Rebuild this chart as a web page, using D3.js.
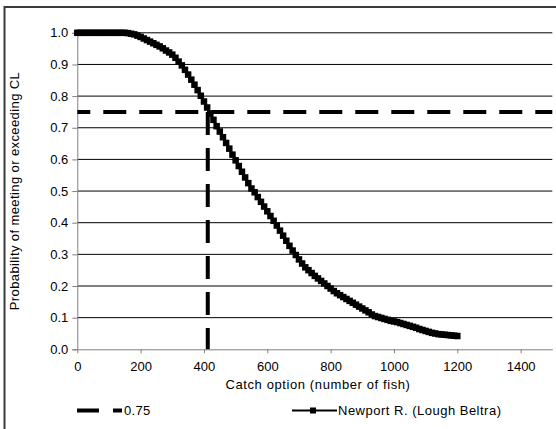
<!DOCTYPE html>
<html>
<head>
<meta charset="utf-8">
<script src="https://cdn.jsdelivr.net/npm/d3@7"></script>
<style>
  html, body { margin: 0; padding: 0; background: #fff; }
  svg { display: block; }
  text { font-family: "Liberation Sans", Arial, sans-serif; fill: #000; }
</style>
</head>
<body>
<svg id="chart" width="556" height="429"></svg>
<script>
// ---- data ----
const catchOptions = [
  0,10,20,30,40,50,60,70,80,90,100,110,120,130,140,150,160,170,180,190,
  200,210,220,230,240,250,260,270,280,290,300,310,320,330,340,350,360,370,380,390,
  400,410,420,430,440,450,460,470,480,490,500,510,520,530,540,550,560,570,580,590,
  600,610,620,630,640,650,660,670,680,690,700,710,720,730,740,750,760,770,780,790,
  800,810,820,830,840,850,860,870,880,890,900,910,920,930,940,950,960,970,980,990,
  1000,1010,1020,1030,1040,1050,1060,1070,1080,1090,1100,1110,1120,1130,1140,1150,1160,1170,1180,1190,
  1200
];
const newportProb = [
  1.000,1.000,1.000,1.000,1.000,1.000,1.000,1.000,1.000,1.000,1.000,1.000,1.000,1.000,1.000,1.000,0.999,0.997,0.995,0.991,
  0.987,0.982,0.977,0.972,0.967,0.962,0.957,0.951,0.944,0.938,0.931,0.921,0.909,0.897,0.883,0.868,0.852,0.836,0.819,0.801,
  0.783,0.764,0.745,0.725,0.705,0.688,0.670,0.652,0.634,0.615,0.597,0.579,0.561,0.543,0.525,0.508,0.496,0.481,0.466,0.451,
  0.436,0.421,0.406,0.391,0.375,0.359,0.343,0.327,0.312,0.298,0.284,0.271,0.259,0.250,0.241,0.232,0.224,0.216,0.208,0.200,
  0.192,0.184,0.177,0.171,0.165,0.159,0.153,0.147,0.141,0.135,0.129,0.123,0.117,0.110,0.105,0.102,0.099,0.096,0.093,0.090,
  0.088,0.086,0.083,0.080,0.077,0.074,0.071,0.068,0.064,0.061,0.058,0.055,0.052,0.050,0.048,0.047,0.046,0.045,0.044,0.043,
  0.042
];
const refLevel = 0.75;          // horizontal dashed threshold
const refCatch = 412;           // catch option where probability = 0.75
const xTicks = [0,200,400,600,800,1000,1200,1400];
const yTicks = [0.0,0.1,0.2,0.3,0.4,0.5,0.6,0.7,0.8,0.9,1.0];
const seriesName = "Newport R. (Lough Beltra)";
const refName = "0.75";
const xTitle = "Catch option (number of fish)";
const yTitle = "Probability of meeting or exceeding CL";

// ---- layout ----
const svg = d3.select("#chart");
const x = d3.scaleLinear().domain([0, 1500]).range([77.3, 552.3]);
const y = d3.scaleLinear().domain([0, 1]).range([349.3, 32.8]);
const FONT = "Liberation Sans, Arial, sans-serif";

// outer chart border (extends past the window on right/bottom)
svg.append("rect")
  .attr("x", 4.5).attr("y", 7).attr("width", 600).attr("height", 480)
  .attr("fill", "none").attr("stroke", "#3a3a3a").attr("stroke-width", 2);

// gridlines
svg.append("g").selectAll("line")
  .data(yTicks.filter(d => d > 0))
  .join("line")
  .attr("x1", x(0)).attr("x2", x(1500))
  .attr("y1", d => y(d)).attr("y2", d => y(d))
  .attr("stroke", "#000").attr("stroke-width", 1);

// y axis
const yAxis = svg.append("g")
  .attr("transform", `translate(${x(0)},0)`)
  .call(d3.axisLeft(y).tickValues(yTicks).tickFormat(d3.format(".1f")).tickSize(5).tickPadding(4));
yAxis.select(".domain").attr("stroke", "#808080");
yAxis.selectAll(".tick line").attr("stroke", "#808080");
yAxis.selectAll(".tick text").attr("font-size", 13).attr("font-family", FONT);

// x axis
const xAxis = svg.append("g")
  .attr("transform", `translate(0,${y(0)})`)
  .call(d3.axisBottom(x).tickValues(xTicks).tickFormat(d3.format("d")).tickSize(4).tickSizeOuter(0).tickPadding(8));
xAxis.select(".domain").attr("stroke", "#808080");
xAxis.selectAll(".tick text").attr("font-size", 13).attr("font-family", FONT);
xAxis.selectAll(".tick line").attr("stroke", "#808080");

// axis titles
svg.append("text")
  .attr("x", 318).attr("y", 389)
  .attr("text-anchor", "middle").attr("font-size", 13).attr("letter-spacing", 0.6)
  .text(xTitle);
svg.append("text")
  .attr("transform", `translate(19,${(y(0) + y(1)) / 2}) rotate(-90)`)
  .attr("text-anchor", "middle").attr("font-size", 13).attr("letter-spacing", 0.4)
  .text(yTitle);

// reference dashed lines
svg.append("line")
  .attr("x1", x(0)).attr("x2", x(1500))
  .attr("y1", y(refLevel)).attr("y2", y(refLevel))
  .attr("stroke", "#000").attr("stroke-width", 4)
  .attr("stroke-dasharray", "23,13").attr("stroke-dashoffset", 10);
svg.append("line")
  .attr("x1", x(refCatch)).attr("x2", x(refCatch))
  .attr("y1", y(refLevel)).attr("y2", y(0))
  .attr("stroke", "#000").attr("stroke-width", 4)
  .attr("stroke-dasharray", "23,13");

// series line + markers
const pts = catchOptions.map((c, i) => [c, newportProb[i]]);
svg.append("path")
  .datum(pts)
  .attr("fill", "none").attr("stroke", "#000").attr("stroke-width", 2.5)
  .attr("d", d3.line().x(d => x(d[0])).y(d => y(d[1])));
const ms = 6.5;
svg.append("g").selectAll("rect")
  .data(pts)
  .join("rect")
  .attr("x", d => x(d[0]) - ms / 2).attr("y", d => y(d[1]) - ms / 2)
  .attr("width", ms).attr("height", ms).attr("fill", "#000");

// legend
const ly = 410.5;
svg.append("line")
  .attr("x1", 77).attr("x2", 122).attr("y1", ly).attr("y2", ly)
  .attr("stroke", "#000").attr("stroke-width", 4).attr("stroke-dasharray", "22,14");
svg.append("text").attr("x", 124).attr("y", ly + 4.5).attr("font-size", 13).attr("letter-spacing", 0.3).text(refName);
svg.append("line")
  .attr("x1", 292).attr("x2", 337).attr("y1", ly).attr("y2", ly)
  .attr("stroke", "#000").attr("stroke-width", 2);
svg.append("rect")
  .attr("x", 313 - 3).attr("y", ly - 3).attr("width", 6).attr("height", 6).attr("fill", "#000");
svg.append("text").attr("x", 338).attr("y", ly + 4.5).attr("font-size", 13).attr("letter-spacing", 0.5).text(seriesName);
</script>
</body>
</html>
